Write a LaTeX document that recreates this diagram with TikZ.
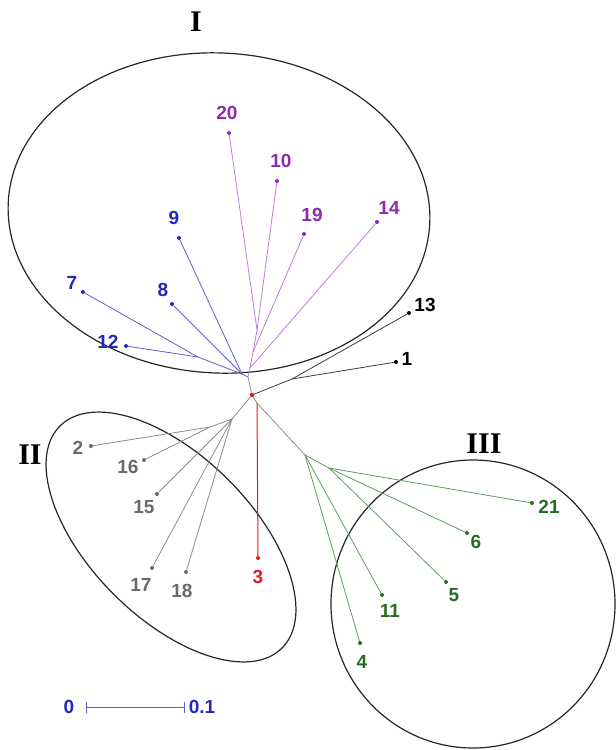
\documentclass[tikz,border=0pt]{standalone}
\usepackage{fontspec}
\setmainfont{Liberation Sans}
\newfontfamily\romanfont{Liberation Serif}
\usetikzlibrary{arrows.meta}
\definecolor{bluelab}{RGB}{35,40,190}
\definecolor{blueline}{RGB}{95,95,200}
\definecolor{purplab}{RGB}{145,40,175}
\definecolor{purpline}{RGB}{190,125,215}
\definecolor{graylab}{RGB}{105,105,105}
\definecolor{grayline}{RGB}{140,140,140}
\definecolor{greenlab}{RGB}{35,110,35}
\definecolor{greenline}{RGB}{95,155,95}
\definecolor{redc}{RGB}{230,25,25}
\definecolor{darkline}{RGB}{60,60,60}
\begin{document}
\begin{tikzpicture}[x=1pt,y=-1pt,
  leaf/.style={circle, fill, inner sep=0pt, minimum size=4pt},
  lab/.style={font=\bfseries\fontsize{19}{19}\selectfont, inner sep=0pt},
  roman/.style={font=\romanfont\bfseries\fontsize{30}{30}\selectfont, inner sep=0pt},
  br/.style={line width=0.8pt},
  grp/.style={line width=1.2pt, black!85}]
\useasboundingbox (0,0) rectangle (616,750);

% group outlines
\draw[grp, rotate around={-3:(219,213)}] (219,213) ellipse [x radius=211, y radius=160];
\draw[grp, rotate around={-45:(171,537)}] (171,537) ellipse [x radius=157, y radius=81];
\draw[grp] (473,604) ellipse [x radius=142, y radius=144];

\node[roman] (rI) at (196,22) {I};
\node[roman] (rII) at (30,455) {II};
\node[roman] (rIII) at (484,444) {III};

% internal points
\coordinate (T) at (248,377);
\coordinate (B) at (242,374);
\coordinate (B2) at (198,357);
\coordinate (P0) at (250,368);
\coordinate (P1) at (253,352);
\coordinate (P2) at (257,330);
\coordinate (K) at (292,379);
\coordinate (G) at (232,419);
\coordinate (G2) at (210,427);
\coordinate (Rr) at (257,403);
\coordinate (Gr) at (305,455);
\coordinate (Gr2) at (329,468);

% root
\node[leaf, redc, minimum size=4.5pt] (R) at (252,395) {};

% leaves
\node[leaf, bluelab] (l7) at (83,292) {};
\node[leaf, bluelab] (l12) at (126,346) {};
\node[leaf, bluelab] (l8) at (172,304) {};
\node[leaf, bluelab] (l9) at (179,238) {};
\node[leaf, purplab] (l20) at (229,133) {};
\node[leaf, purplab] (l10) at (277,181) {};
\node[leaf, purplab] (l19) at (304,234) {};
\node[leaf, purplab] (l14) at (377,222) {};
\node[leaf, black] (l13) at (409,313) {};
\node[leaf, black] (l1) at (396,362) {};
\node[leaf, graylab] (l2) at (91,446) {};
\node[leaf, graylab] (l16) at (144,460) {};
\node[leaf, graylab] (l15) at (157,494) {};
\node[leaf, graylab] (l17) at (152,568) {};
\node[leaf, graylab] (l18) at (186,572) {};
\node[leaf, redc] (l3) at (258,558) {};
\node[leaf, greenlab] (l21) at (532,503) {};
\node[leaf, greenlab] (l6) at (467,533) {};
\node[leaf, greenlab] (l5) at (446,582) {};
\node[leaf, greenlab] (l11) at (382,595) {};
\node[leaf, greenlab] (l4) at (360,643) {};

% branches
\draw[br, grayline] (T) -- (R);
\draw[br, blueline] (B) -- (T);
\draw[br, blueline] (B) -- (l9);
\draw[br, blueline] (B) -- (l8);
\draw[br, blueline] (B) -- (B2);
\draw[br, blueline] (B2) -- (l7);
\draw[br, blueline] (B2) -- (l12);
\draw[br, purpline] (T) -- (P0);
\draw[br, purpline] (P0) -- (l14);
\draw[br, purpline] (P0) -- (P1);
\draw[br, purpline] (P1) -- (l19);
\draw[br, purpline] (P1) -- (P2);
\draw[br, purpline] (P2) -- (l20);
\draw[br, purpline] (P2) -- (l10);
\draw[br, darkline] (R) -- (K);
\draw[br, darkline] (K) -- (l13);
\draw[br, darkline] (K) -- (l1);
\draw[br, grayline] (R) -- (G);
\draw[br, grayline] (G) -- (l15);
\draw[br, grayline] (G) -- (l17);
\draw[br, grayline] (G) -- (l18);
\draw[br, grayline] (G) -- (G2);
\draw[br, grayline] (G2) -- (l2);
\draw[br, grayline] (G2) -- (l16);
\draw[br, grayline] (R) -- (Rr);
\draw[br, redc, line width=1pt] (Rr) -- (l3);
\draw[br, grayline] (Rr) -- (Gr);
\draw[br, greenline] (Gr) -- (l4);
\draw[br, greenline] (Gr) -- (l11);
\draw[br, greenline] (Gr) -- (Gr2);
\draw[br, greenline] (Gr2) -- (l5);
\draw[br, greenline] (Gr2) -- (l6);
\draw[br, greenline] (Gr2) -- (l21);

% labels
\node[lab, bluelab] (t7) at (72,283) {7};
\node[lab, bluelab] (t12) at (108,342) {12};
\node[lab, bluelab] (t8) at (163,290) {8};
\node[lab, bluelab] (t9) at (174,218) {9};
\node[lab, purplab] (t20) at (227,113) {20};
\node[lab, purplab] (t10) at (281,161) {10};
\node[lab, purplab] (t19) at (312,215) {19};
\node[lab, purplab] (t14) at (389,208) {14};
\node[lab, black] (t13) at (425,305) {13};
\node[lab, black] (t1) at (407,359) {1};
\node[lab, graylab] (t2) at (78,448) {2};
\node[lab, graylab] (t16) at (128,467) {16};
\node[lab, graylab] (t15) at (144,507) {15};
\node[lab, graylab] (t17) at (141,585) {17};
\node[lab, graylab] (t18) at (182,591) {18};
\node[lab, redc] (t3) at (258,577) {3};
\node[lab, greenlab] (t21) at (549,507) {21};
\node[lab, greenlab] (t6) at (476,542) {6};
\node[lab, greenlab] (t5) at (454,595) {5};
\node[lab, greenlab] (t11) at (390,611) {11};
\node[lab, greenlab] (t4) at (362,662) {4};

% scale bar
\node[lab, bluelab] (s0) at (69,707) {0};
\node[lab, bluelab] (s1) at (202,707) {0.1};
\coordinate (sb0) at (86,707);
\coordinate (sb1) at (185,707);
\draw[blueline, line width=0.9pt, {Bar[width=11pt]}-{Bar[width=11pt]}] (sb0) -- (sb1);
\end{tikzpicture}
\end{document}
